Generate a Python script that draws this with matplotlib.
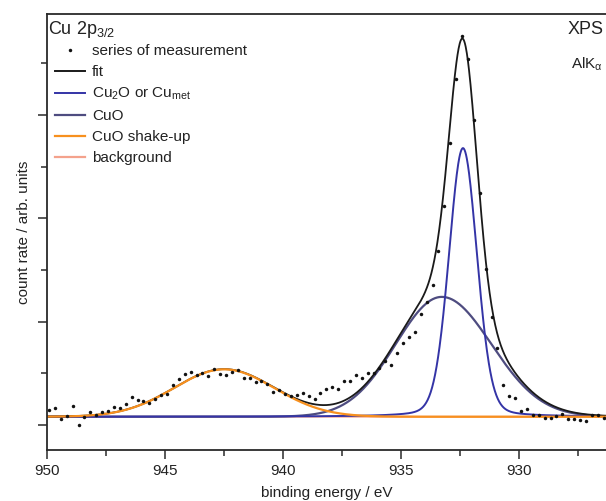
import numpy as np
import matplotlib
matplotlib.use("Agg")
import matplotlib.pyplot as plt
from matplotlib.lines import Line2D

plt.rcParams['font.family'] = ['Liberation Sans', 'DejaVu Sans']
plt.rcParams['mathtext.default'] = 'regular'

# measured spectrum, 0.25 eV steps
energy = np.arange(949.9, 926.35, -0.25)
counts = [145, 167, 58, 87, 184, 3, 75, 123, 94, 126,
          136, 171, 165, 206, 268, 245, 232, 216, 255, 287,
          300, 390, 442, 497, 513, 487, 508, 474, 542, 491,
          484, 516, 532, 452, 452, 413, 423, 394, 319, 336,
          297, 284, 287, 313, 284, 249, 310, 351, 365, 351,
          423, 426, 481, 453, 499, 499, 549, 615, 576, 700,
          789, 849, 900, 1070, 1191, 1355, 1680, 2115, 2733, 3346,
          3766, 3540, 2952, 2243, 1507, 1048, 745, 390, 276, 264,
          136, 152, 97, 94, 65, 68, 87, 106, 55, 55,
          53, 36, 100, 92, 68]

# fit parameters
background_level = 80
cu2o_center, cu2o_height, cu2o_fwhm, cu2o_eta = 932.36, 2600, 1.4, 0.15
cuo_center, cuo_height, cuo_sig_lo, cuo_sig_hi = 933.26, 1160, 2.1, 1.95
shake_center, shake_height, shake_fwhm = 942.48, 459, 5.0


def pseudo_voigt(x, c, h, w, eta):
    g = np.exp(-4 * np.log(2) * ((x - c) / w) ** 2)
    l = 1 / (1 + 4 * ((x - c) / w) ** 2)
    return h * ((1 - eta) * g + eta * l)


def split_gauss(x, c, h, s_lo, s_hi):
    # s_lo: low binding energy side, s_hi: high binding energy side
    s = np.where(x < c, s_lo, s_hi)
    return h * np.exp(-(x - c) ** 2 / (2 * s ** 2))


xs = np.linspace(950, 926.3, 1500)
bg = np.full_like(xs, background_level)
cu2o = bg + pseudo_voigt(xs, cu2o_center, cu2o_height, cu2o_fwhm, cu2o_eta)
cuo = bg + split_gauss(xs, cuo_center, cuo_height, cuo_sig_lo, cuo_sig_hi)
shake = bg + pseudo_voigt(xs, shake_center, shake_height, shake_fwhm, 0.0)
fit = cu2o + cuo + shake - 2 * bg

c_fit = '#1a1a1a'
c_cu2o = '#3434a6'
c_cuo = '#4e4c80'
c_shake = '#f7901e'
c_bg = '#f4a28c'

fig = plt.figure(figsize=(6.06, 5.01), dpi=100)
ax = fig.add_axes([0.077, 0.1018, 0.923, 0.8702])

ax.plot(xs, bg, color=c_bg, lw=1.3)
ax.plot(xs, cuo, color=c_cuo, lw=1.6)
ax.plot(xs, cu2o, color=c_cu2o, lw=1.4)
ax.plot(xs, fit, color=c_fit, lw=1.3)
ax.plot(xs, shake, color=c_shake, lw=1.6)
ax.plot(energy, counts, ls='none', marker='o', ms=2.5, mew=0, color='#111111')

ax.set_xlim(950, 926.3)
ax.set_ylim(-242, 3978)
ax.set_xticks([950, 945, 940, 935, 930])
ax.set_xticks(np.arange(947.5, 926, -5), minor=True)
ax.set_yticks([0, 1000, 2000, 3000])
ax.set_yticks([500, 1500, 2500, 3500], minor=True)
ax.set_yticklabels([])
ax.tick_params(which='major', direction='out', length=6.5, width=1.1,
               labelsize=11, colors='#2a2a2a', labelcolor='#222222')
ax.tick_params(which='minor', direction='out', length=4, width=1.1, colors='#2a2a2a')
ax.tick_params(top=False, right=False)
for side in ['left', 'bottom', 'top']:
    ax.spines[side].set_linewidth(1.3)
    ax.spines[side].set_color('#2a2a2a')
ax.spines['right'].set_visible(False)

ax.set_xlabel('binding energy / eV', fontsize=11, color='#222222', labelpad=6)
ax.set_ylabel('count rate / arb. units', fontsize=11, color='#222222', labelpad=1)

ax.text(0.003, 0.988, 'Cu 2p$_{3/2}$', transform=ax.transAxes, fontsize=13,
        va='top', ha='left', color='#222222')
ax.text(0.995, 0.985, 'XPS', transform=ax.transAxes, fontsize=13,
        va='top', ha='right', color='#222222')
ax.text(0.995, 0.905, 'AlK$_\\alpha$', transform=ax.transAxes, fontsize=11,
        va='top', ha='right', color='#222222')

handles = [
    Line2D([], [], ls='none', marker='o', ms=2.5, mew=0, color='#111111'),
    Line2D([], [], color=c_fit, lw=1.4),
    Line2D([], [], color=c_cu2o, lw=1.4),
    Line2D([], [], color=c_cuo, lw=1.6),
    Line2D([], [], color=c_shake, lw=1.6),
    Line2D([], [], color=c_bg, lw=1.6),
]
labels = ['series of measurement', 'fit', 'Cu$_2$O or Cu$_{met}$', 'CuO',
          'CuO shake-up', 'background']
ax.legend(handles, labels, loc='upper left', bbox_to_anchor=(-0.002, 0.952),
          frameon=False, fontsize=11, handlelength=2.0, handletextpad=0.45,
          labelspacing=0.45, borderaxespad=0.2, labelcolor='#222222')

fig.savefig('out.png', dpi=100)
